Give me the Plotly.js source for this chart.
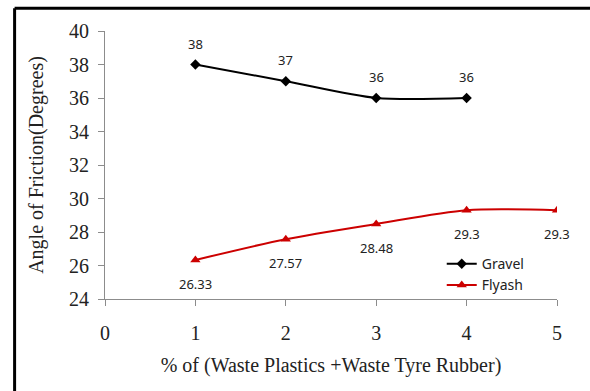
<!DOCTYPE html>
<html>
<head>
<meta charset="utf-8">
<script src="https://cdn.plot.ly/plotly-3.0.1.min.js"></script>
<style>
html,body{margin:0;padding:0;background:#fff;}
#chart{width:590px;height:391px;}
</style>
</head>
<body>
<div id="chart"></div>
<script>
var gravelX = [1, 2, 3, 4];
var gravelY = [38, 37, 36, 36];
var gravelLabels = ["38", "37", "36", "36"];
var flyashX = [1, 2, 3, 4, 5];
var flyashY = [26.33, 27.57, 28.48, 29.3, 29.3];
var flyashLabels = ["26.33", "27.57", "28.48", "29.3", "29.3"];
var xTicks = [0, 1, 2, 3, 4, 5];
var yTicks = [24, 26, 28, 30, 32, 34, 36, 38, 40];

var traces = [
  {x: gravelX, y: gravelY, name: "Gravel", mode: "lines+markers", type: "scatter",
   line: {color: "#000000", width: 2, shape: "spline", smoothing: 0.8},
   marker: {symbol: "diamond", size: 8, color: "#000000"}},
  {x: flyashX, y: flyashY, name: "Flyash", mode: "lines+markers", type: "scatter",
   line: {color: "#cc0000", width: 2, shape: "spline", smoothing: 0.8},
   marker: {symbol: "triangle-up", size: 9, color: "#cc0000"}}
];

var labelFont = {family: "Noto Sans, sans-serif", size: 13, color: "#222"};
var annotations = [];
gravelX.forEach(function(v, i){
  annotations.push({x: v, y: gravelY[i], text: gravelLabels[i], showarrow: false,
    yshift: 21, font: labelFont});
});
flyashX.forEach(function(v, i){
  annotations.push({x: v, y: flyashY[i], text: flyashLabels[i], showarrow: false,
    yshift: -24, font: labelFont});
});

var serif = "Liberation Serif, Times New Roman, serif";
var layout = {
  width: 590, height: 391,
  margin: {l: 105, r: 33, t: 31, b: 92},
  paper_bgcolor: "#ffffff", plot_bgcolor: "#ffffff",
  showlegend: true,
  legend: {x: 0.745, y: 0.19, xanchor: "left", yanchor: "top",
    font: {family: "Noto Sans, sans-serif", size: 14, color: "#222"},
    bgcolor: "rgba(0,0,0,0)", tracegroupgap: 0, itemwidth: 30},
  xaxis: {range: [0, 5], tickvals: xTicks, ticktext: xTicks.map(String),
    showgrid: false, zeroline: false, showline: true, linecolor: "#8c8c8c", linewidth: 1,
    ticks: "outside", ticklen: 6, tickcolor: "#8c8c8c", ticklabelstandoff: 10,
    tickfont: {family: serif, size: 20, color: "#222"},
    title: {text: "% of (Waste Plastics +Waste Tyre Rubber)", standoff: 14,
      font: {family: serif, size: 20, color: "#222"}}},
  yaxis: {range: [24, 40], tickvals: yTicks, ticktext: yTicks.map(String),
    showgrid: false, zeroline: false, showline: true, linecolor: "#8c8c8c", linewidth: 1,
    ticks: "outside", ticklen: 6, tickcolor: "#8c8c8c", ticklabelstandoff: 5,
    tickfont: {family: serif, size: 20, color: "#222"},
    title: {text: "Angle of Friction(Degrees)", standoff: 20,
      font: {family: serif, size: 20, color: "#222"}}},
  annotations: annotations,
  shapes: [
    {type: "line", xref: "paper", yref: "paper", x0: -0.2, x1: -0.2, y0: 1.085, y1: -0.5,
     line: {color: "#000", width: 3}},
    {type: "line", xref: "paper", yref: "paper", x0: -0.2, x1: 1.1, y0: 1.085, y1: 1.085,
     line: {color: "#000", width: 3}}
  ]
};

Plotly.newPlot("chart", traces, layout, {displayModeBar: false, staticPlot: true});
</script>
</body>
</html>
